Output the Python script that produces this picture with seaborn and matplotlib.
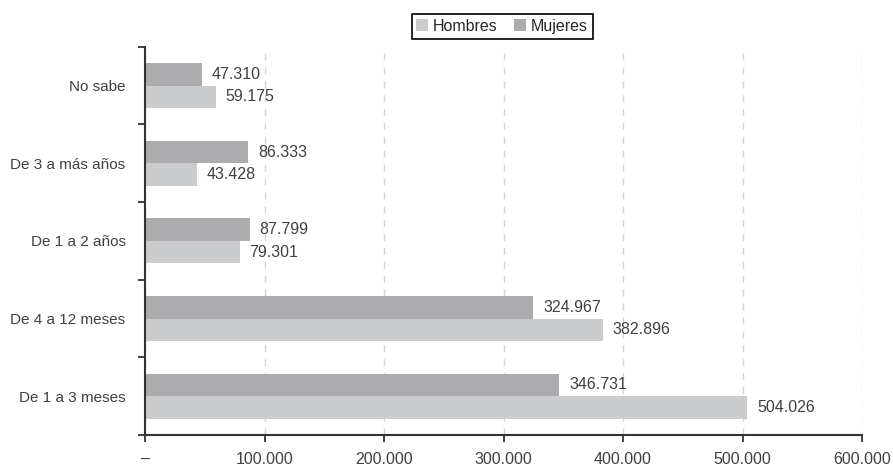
import matplotlib
matplotlib.use("Agg")
import matplotlib.pyplot as plt
from matplotlib.ticker import FixedLocator, FuncFormatter
import numpy as np
import pandas as pd
import seaborn as sns

categorias = ["No sabe", "De 3 a más años", "De 1 a 2 años", "De 4 a 12 meses", "De 1 a 3 meses"]
mujeres = [47310, 86333, 87799, 324967, 346731]
hombres = [59175, 43428, 79301, 382896, 504026]
x_ticks = [0, 100000, 200000, 300000, 400000, 500000, 600000]

df = pd.DataFrame({
    "categoria": categorias * 2,
    "sexo": ["Mujeres"] * len(categorias) + ["Hombres"] * len(categorias),
    "valor": mujeres + hombres,
})

sns.set_style("white")
plt.rcParams["font.family"] = ["Liberation Sans", "DejaVu Sans"]
plt.rcParams["font.size"] = 10

def miles(v, pos=None):
    if v == 0:
        return "–"
    return f"{v:,.0f}".replace(",", ".")

fig = plt.figure(figsize=(8.93, 4.66), dpi=100)
ax = fig.add_axes([0.1624, 0.0665, 0.8029, 0.833])

colores = {"Mujeres": "#acacaf", "Hombres": "#cbcccd"}
sns.barplot(data=df, y="categoria", x="valor", hue="sexo", order=categorias,
            hue_order=["Mujeres", "Hombres"], palette=colores, width=0.58,
            orient="h", ax=ax, saturation=1, legend=True, linewidth=0)

for cont in ax.containers:
    ax.bar_label(cont, labels=[miles(b.get_width()) for b in cont], padding=7,
                 color="#404040", fontsize=11.5)

ax.set_xlim(0, 600000)
ax.set_ylim(len(categorias) - 0.5, -0.5)
ax.xaxis.set_major_locator(FixedLocator(x_ticks))
ax.xaxis.set_major_formatter(FuncFormatter(miles))
ax.set_xlabel("")
ax.set_ylabel("")

# ticks del eje y en los limites, etiquetas centradas
ax.yaxis.set_major_locator(FixedLocator(np.arange(-0.5, len(categorias), 1)))
ax.yaxis.set_major_formatter(FuncFormatter(lambda v, p: ""))
ax.yaxis.set_minor_locator(FixedLocator(np.arange(len(categorias))))
ax.set_yticklabels(categorias, minor=True)
ax.tick_params(axis="y", which="major", left=True, length=5, width=1.3, color="#333333")
ax.tick_params(axis="y", which="minor", length=0, pad=14, labelcolor="#404040", labelsize=11)
ax.tick_params(axis="x", bottom=True, length=5, width=1.3, color="#333333", pad=7,
               labelcolor="#404040", labelsize=11.5)

ax.grid(axis="x", linestyle=(0, (5, 5)), color="#d4d4d4", linewidth=1)
ax.set_axisbelow(True)
sns.despine(ax=ax, top=True, right=True)
for s in ["left", "bottom"]:
    ax.spines[s].set_color("#333333")
    ax.spines[s].set_linewidth(1.5)

h, l = ax.get_legend_handles_labels()
ax.legend([h[1], h[0]], [l[1], l[0]], loc="center", bbox_to_anchor=(0.498, 1.053),
          ncol=2, frameon=True, fancybox=False, edgecolor="black", framealpha=1,
          handlelength=0.75, handleheight=0.75, handletextpad=0.3, columnspacing=1.0,
          borderpad=0.3, fontsize=11.5)
ax.get_legend().get_frame().set_linewidth(1.2)

fig.savefig("out.png", dpi=100)
